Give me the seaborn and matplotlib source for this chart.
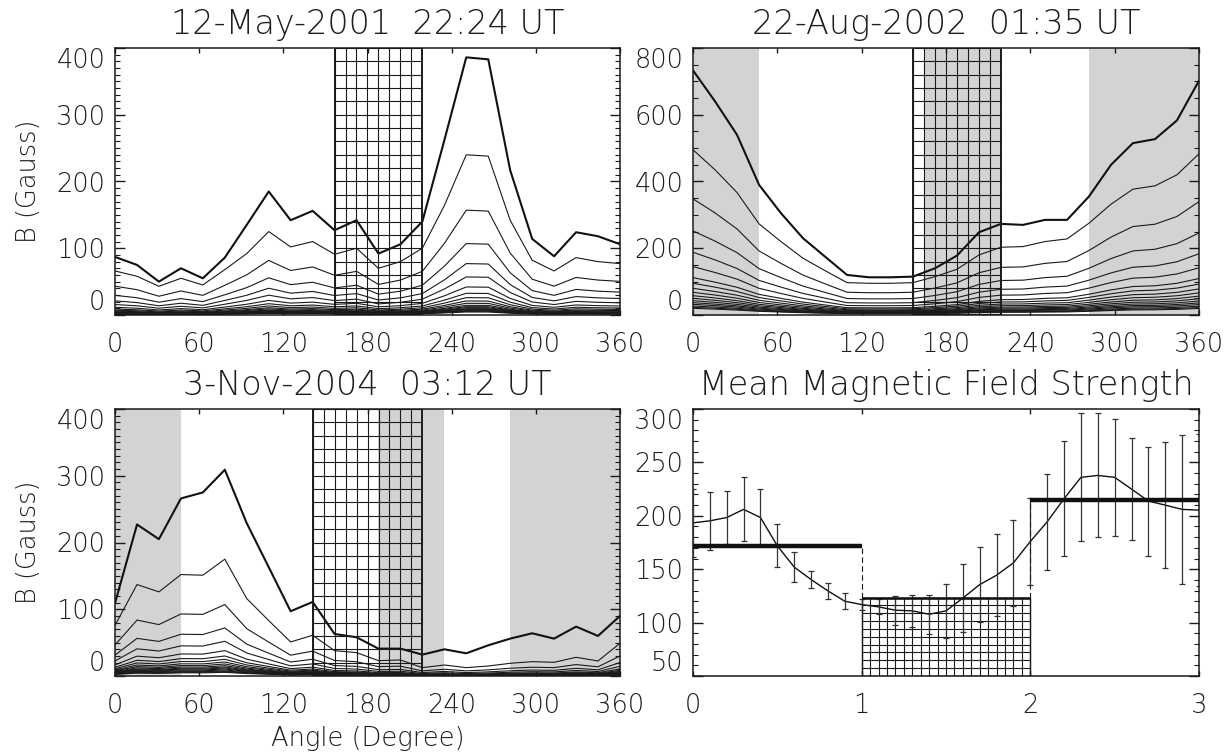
import numpy as np
import pandas as pd
import seaborn as sns
import matplotlib.pyplot as plt
from matplotlib.patches import Rectangle
from matplotlib.ticker import AutoMinorLocator

# ---- data ----
angles = [0, 15.7, 31.3, 47.0, 62.6, 78.3, 93.9, 109.6, 125.2, 140.9, 156.5, 172.2,
          187.8, 203.5, 219.1, 234.8, 250.4, 266.1, 281.7, 297.4, 313.0, 328.7, 344.3, 360]

# 12-May-2001: outermost curve, next curve, and level of each curve at 250 deg
may_top = [87, 75, 50, 70, 55, 86, 135, 185, 142, 156, 127, 142,
           92, 106, 140, 262, 386, 383, 217, 114, 88, 124, 118, 106]
may_second = [66, 58, 43, 55, 45, 68, 92, 125, 102, 110, 91, 100,
              70, 80, 100, 164, 240, 238, 142, 82, 66, 86, 80, 77]
may_levels = [386, 240, 157, 107, 77, 57, 42, 32.5, 26, 21, 17.5, 14.5,
              12.5, 11, 9.5, 8.5, 7.5, 6.5, 5.5, 4.5]

# 22-Aug-2002: levels of each curve at 0 deg
aug_top = [733, 640, 540, 390, 305, 230, 175, 120, 113, 113, 115, 140,
           178, 248, 273, 270, 285, 285, 355, 450, 515, 527, 583, 702]
aug_second = [495, 435, 367, 273, 220, 170, 133, 97, 95, 95, 97, 115,
              137, 180, 203, 205, 220, 228, 275, 332, 377, 387, 420, 483]
aug_levels = [733, 495, 348, 252, 188, 145, 112, 95, 80, 68, 58, 50,
              43, 37, 32, 27, 23, 20]

# 3-Nov-2004: levels of each curve at 78 deg
nov_top = [109, 227, 205, 266, 275, 309, 229, 163, 97, 111, 63, 58,
           41, 41, 32, 40, 34, 46, 56, 64, 56, 74, 60, 90]
nov_second = [76, 137, 126, 152, 151, 175, 116, 83, 51, 61, 38, 35,
              23, 24, 12.5, 16.5, 12.5, 15, 19, 21.5, 20.5, 28, 22.5, 49]
nov_levels = [309, 175, 107, 72, 52, 38, 30, 25, 21, 18, 15.5, 13.5,
              12, 10.5, 9, 7.5, 6.5, 5.5]

# shaded sectors (deg) and hatched sectors
aug_shade = [(0, 47.0), (164.3, 219.1), (281.7, 360)]
nov_shade = [(0, 47.0), (187.8, 234.8), (281.7, 360)]
may_box = (156.5, 219.1)
aug_box = (156.5, 219.1)
nov_box = (140.9, 219.1)

# Mean magnetic field strength
mean_x = [0.0, 0.1, 0.2, 0.3, 0.4, 0.5, 0.6, 0.7, 0.8, 0.9, 1.0, 1.1, 1.2, 1.3, 1.4, 1.5,
          1.6, 1.7, 1.8, 1.9, 2.0, 2.1, 2.2, 2.3, 2.4, 2.5, 2.6, 2.7, 2.8, 2.9, 3.0]
mean_b = [193.4, 195.3, 198.4, 206, 198.4, 171.9, 152, 140.3, 129.7, 120, 116.9, 114.7,
          111.6, 111, 107.8, 111, 123, 135.6, 144.4, 156, 176, 194.4, 216, 236, 237.8,
          236, 225, 213.8, 210, 206, 205.3]
std_b = [32, 27, 25, 30, 27, 20, 14, 8, 7.5, 7.5, 5, 7, 13.5, 15.3, 18.4, 25,
         31.5, 35, 38.4, 40, 41, 45, 54, 60, 58, 55, 48, 51, 59, 70, 71]
step_edges = [0, 1, 2, 3]
step_levels = [171.5, 123.5, 215]

GREY = '#d2d3d5'
TEXT = '#1e1e1e'
TICK_FS = 18.5
TITLE_FS = 24
LIGHT = 200

sns.set_theme(style='ticks')
plt.rcParams['font.family'] = ['DejaVu Sans']
plt.rcParams['font.weight'] = LIGHT
plt.rcParams['axes.titleweight'] = LIGHT
plt.rcParams['axes.labelweight'] = LIGHT
plt.rcParams['axes.linewidth'] = 1.1

fig = plt.figure(figsize=(12.29, 7.54), dpi=100)
W, H = 1229, 754


def make_axes(left, top, right, bottom):
    return fig.add_axes([left / W, 1 - bottom / H, (right - left) / W, (bottom - top) / H])


def style_axes(ax, ylim, yticks, yminor, xticks):
    ax.set_ylim(*ylim)
    ax.set_yticks(yticks)
    ax.set_xticks(xticks)
    ax.set_xticklabels([str(t) for t in xticks], fontweight=LIGHT)
    ax.set_yticklabels([str(t) for t in yticks], fontweight=LIGHT)
    ax.yaxis.set_minor_locator(AutoMinorLocator(yminor))
    ax.tick_params(axis='both', which='both', direction='in', top=True, right=True,
                   color='k', labelsize=TICK_FS, labelcolor=TEXT)
    ax.tick_params(axis='x', which='major', length=3.8, width=1.0, pad=12)
    ax.tick_params(axis='x', which='minor', length=0)
    ax.tick_params(axis='y', which='major', length=7.2, width=1.0, pad=7)
    ax.tick_params(axis='y', which='minor', length=3.6, width=0.8)
    labels = ax.get_yticklabels()
    labels[0].set_va('bottom')
    labels[-1].set_va('top')
    for s in ax.spines.values():
        s.set_color('k')
    ax.set_xlabel('')
    ax.set_ylabel('')


def hatch_box(ax, x0, x1, y0, y1, dx, dy, lw_box=1.4):
    xs = np.arange(x0, x1 + 1e-6, dx)
    ys = np.arange(y0, y1 + 1e-6, dy)
    ax.vlines(xs, y0, y1, color='k', lw=0.8, zorder=3)
    ax.hlines(ys, x0, x1, color='k', lw=0.8, zorder=3)
    ax.add_patch(Rectangle((x0, y0), x1 - x0, y1 - y0, fill=False, ec='k', lw=lw_box, zorder=4))


def angle_panel(ax, top, second, levels, shades, box, ylim, yticks, yminor, title):
    for a, b in shades:
        ax.axvspan(a, b, color=GREY, lw=0, zorder=0)
    curves = [np.array(top)] + [np.array(second) * lv / levels[1] for lv in levels[1:]]
    df = pd.DataFrame({'angle': np.tile(angles, len(curves)),
                       'B': np.concatenate(curves),
                       'level': np.repeat(np.arange(len(curves)), len(angles))})
    sns.lineplot(data=df[df['level'] > 0], x='angle', y='B', units='level', estimator=None,
                 color='#1a1a1a', lw=0.8, ax=ax, zorder=2)
    sns.lineplot(data=df[df['level'] == 0], x='angle', y='B', color='#111111', lw=1.5,
                 ax=ax, zorder=2)
    hatch_box(ax, box[0], box[1], ylim[0], ylim[1], 7.826, (ylim[1] - ylim[0]) / 20)
    ax.set_xlim(0, 360)
    style_axes(ax, ylim, yticks, yminor, [0, 60, 120, 180, 240, 300, 360])
    ax.set_title(title, fontsize=TITLE_FS, pad=10, color=TEXT, fontweight=LIGHT)


ax1 = make_axes(115, 48, 620, 315)
ax2 = make_axes(693, 48, 1199, 315)
ax3 = make_axes(115, 409, 620, 676)
ax4 = make_axes(693, 409, 1199, 676)

angle_panel(ax1, may_top, may_second, may_levels, [], may_box, (0, 400),
            [0, 100, 200, 300, 400], 10, '12-May-2001  22:24 UT')
angle_panel(ax2, aug_top, aug_second, aug_levels, aug_shade, aug_box, (0, 800),
            [0, 200, 400, 600, 800], 4, '22-Aug-2002  01:35 UT')
angle_panel(ax3, nov_top, nov_second, nov_levels, nov_shade, nov_box, (0, 400),
            [0, 100, 200, 300, 400], 10, '3-Nov-2004  03:12 UT')

for ax in (ax1, ax3):
    ax.set_ylabel('B (Gauss)', fontsize=TICK_FS, labelpad=11, color=TEXT, fontweight=LIGHT)
ax3.set_xlabel('Angle (Degree)', fontsize=TICK_FS, labelpad=6, color=TEXT, fontweight=LIGHT)

# ---- mean field panel ----
hatch_box(ax4, 1, 2, 50, step_levels[1], 0.05, 7.35, lw_box=1.0)
sns.lineplot(x=mean_x, y=mean_b, color='#111111', lw=1.0, ax=ax4, zorder=5)
ax4.errorbar(mean_x, mean_b, yerr=std_b, fmt='none', ecolor='#333333', elinewidth=0.9,
             capsize=2.5, capthick=0.9, zorder=5)
ax4.hlines(step_levels, step_edges[:-1], step_edges[1:], color='#111111',
           lw=[3.2, 1.8, 3.2], zorder=6)
ax4.vlines([1], step_levels[1], step_levels[0], color='k', lw=0.8, linestyles=(0, (5, 3)), zorder=6)
ax4.vlines([2], step_levels[1], step_levels[2], color='k', lw=0.8, linestyles=(0, (5, 3)), zorder=6)
ax4.set_xlim(0, 3)
style_axes(ax4, (50, 300), [50, 100, 150, 200, 250, 300], 5, [0, 1, 2, 3])
ax4.set_title('Mean Magnetic Field Strength', fontsize=TITLE_FS, pad=10, color=TEXT,
              fontweight=LIGHT)

fig.savefig('out.png', dpi=100)
